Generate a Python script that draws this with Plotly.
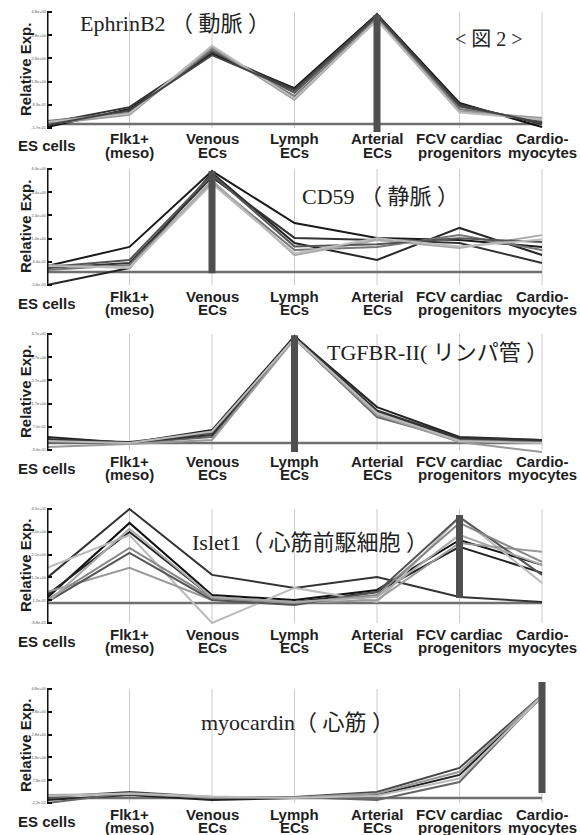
import plotly.graph_objects as go

W, H = 580, 835

# ---------------- data ----------------
categories = ["ES cells", "Flk1+ (meso)", "Venous ECs", "Lymph ECs",
              "Arterial ECs", "FCV cardiac progenitors", "Cardio-myocytes"]
cat_line1 = ["ES cells", "Flk1+", "Venous", "Lymph", "Arterial", "FCV cardiac", "Cardio-"]
cat_line2 = ["", "(meso)", "ECs", "ECs", "ECs", "progenitors", "myocytes"]

titles = ["EphrinB2 （ 動脈 ）", "CD59 （ 静脈 ）", "TGFBR-II( リンパ管 ）",
          "Islet1（ 心筋前駆細胞 ）", "myocardin（ 心筋 ）"]
figure_label = "< 図 2 >"
y_title = "Relative Exp."

# y tick values per panel (relative expression units)
ticks_p1 = [-0.17, 0.83, 1.83, 2.83, 3.83, 4.83]
ticks_p2 = [-0.56, 0.44, 1.44, 2.44, 3.44, 4.44]
ticks_p3 = [-0.30, 0.70, 1.70, 2.70, 3.70, 4.70]
ticks_p4 = [-0.88, 0.12, 1.12, 2.12, 3.12, 4.12]
ticks_p5 = [-0.22, 0.78, 1.78, 2.78, 3.78, 4.78]

# EphrinB2 (arterial)
ephrinb2 = [
    [-0.13, 0.65, 3.02, 1.55, 4.74, 0.91, -0.13],
    [0.04, 0.73, 3.10, 1.50, 4.66, 0.85, 0.00],
    [0.09, 0.56, 3.15, 1.35, 4.60, 0.75, 0.09],
    [0.13, 0.48, 3.25, 1.20, 4.55, 0.65, 0.17],
    [0.00, 0.40, 3.32, 1.05, 4.50, 0.55, 0.26],
    [0.09, 0.45, 3.38, 1.10, 4.48, 0.50, 0.20],
    [-0.04, 0.60, 2.97, 1.45, 4.70, 0.80, 0.05],
]
# CD59 (venous)
cd59 = [
    [0.26, 1.08, 4.35, 2.11, 1.47, 1.38, 1.08],
    [-0.56, 0.17, 4.27, 1.25, 0.52, 1.90, 0.73],
    [0.17, 0.39, 4.09, 1.47, 1.38, 1.25, 0.39],
    [0.09, 0.30, 3.88, 0.95, 1.08, 1.59, 0.95],
    [0.30, 0.17, 3.95, 0.73, 1.38, 1.03, 1.59],
    [0.22, 0.52, 4.20, 1.10, 1.20, 1.45, 1.29],
    [0.26, 0.20, 3.80, 0.80, 1.45, 1.10, 1.40],
]
# TGFBR-II (lymphatic)
tgfbr2 = [
    [0.26, 0.00, 0.56, 4.60, 1.55, 0.26, 0.13],
    [0.13, 0.04, 0.43, 4.55, 1.34, 0.17, 0.09],
    [0.00, 0.00, 0.26, 4.50, 1.12, 0.13, 0.04],
    [-0.17, -0.04, 0.13, 4.48, 1.20, 0.04, -0.39],
    [0.17, 0.02, 0.35, 4.62, 1.40, 0.22, 0.13],
    [0.09, 0.00, 0.50, 4.52, 1.30, 0.09, 0.00],
]
# Islet1 (cardiac progenitors)
islet1 = [
    [1.10, 4.12, 1.23, 0.66, 1.14, 0.26, 0.04],
    [0.22, 3.51, 0.35, 0.13, 0.57, 2.76, 1.67],
    [0.35, 3.11, 0.26, 0.04, 0.48, 2.46, 1.32],
    [1.54, 2.98, -0.88, 0.66, 0.04, 3.77, 0.88],
    [0.48, 1.54, 0.13, 0.00, 0.13, 2.63, 2.24],
    [0.04, 2.19, 0.13, -0.09, 0.48, 3.77, 1.23],
    [0.13, 2.41, 0.22, 0.00, 0.35, 3.51, 1.80],
    [0.00, 3.25, 0.26, 0.04, 0.26, 2.98, 1.67],
]
# myocardin (cardiomyocytes)
myocardin = [
    [0.04, 0.26, 0.04, 0.04, 0.26, 1.32, 4.52],
    [-0.09, 0.13, -0.09, 0.00, 0.13, 1.01, 4.43],
    [-0.22, 0.22, 0.00, 0.04, -0.09, 0.70, 4.48],
    [0.13, 0.18, 0.02, 0.02, 0.20, 1.15, 4.50],
    [0.09, 0.20, 0.06, 0.00, 0.10, 0.85, 4.46],
]

# highlighted (selected) category and its bar extent per panel
highlight_cat = ["Arterial ECs", "Venous ECs", "Lymph ECs",
                 "FCV cardiac progenitors", "Cardio-myocytes"]
highlight_low = [-0.34, -0.05, -0.39, 0.22, 0.22]
highlight_high = [4.70, 4.35, 4.65, 3.86, 5.09]

# ---------------- style / layout ----------------
panels = [
    dict(series=ephrinb2, ticks=ticks_p1, top=12, bot=128,
         colors=["#111111", "#333333", "#555555", "#777777", "#999999", "#bbbbbb", "#444444"],
         title_xy=(78, 24)),
    dict(series=cd59, ticks=ticks_p2, top=169, bot=285,
         colors=["#1a1a1a", "#262626", "#333333", "#777777", "#aaaaaa", "#555555", "#bbbbbb"],
         title_xy=(300, 196)),
    dict(series=tgfbr2, ticks=ticks_p3, top=334, bot=450,
         colors=["#222222", "#444444", "#666666", "#999999", "#333333", "#bbbbbb"],
         title_xy=(325, 352)),
    dict(series=islet1, ticks=ticks_p4, top=509, bot=623,
         colors=["#333333", "#111111", "#222222", "#bbbbbb", "#999999", "#555555", "#888888", "#aaaaaa"],
         title_xy=(190, 542)),
    dict(series=myocardin, ticks=ticks_p5, top=689, bot=803,
         colors=["#444444", "#222222", "#666666", "#999999", "#bbbbbb"],
         title_xy=(199, 722)),
]

X0_PX = 47.0
CAT_PX = 82.5
X_RANGE = [0, 6.08]
PAD = 0.5

fig = go.Figure()
layout = dict(width=W, height=H, margin=dict(l=0, r=0, t=0, b=0),
              paper_bgcolor="white", plot_bgcolor="white", showlegend=False)
shapes = []
annotations = []

def py(px):
    return 1 - px / H

for i, p in enumerate(panels):
    n = i + 1
    xa = "x" if n == 1 else f"x{n}"
    ya = "y" if n == 1 else f"y{n}"
    ticks = p["ticks"]
    spu = (p["bot"] - p["top"]) / (ticks[-1] - ticks[0])
    dom_top = p["top"] - PAD * spu
    dom_bot = p["bot"] + PAD * spu
    x_dom = [X0_PX / W, (X0_PX + X_RANGE[1] * CAT_PX) / W]

    layout["xaxis" if n == 1 else f"xaxis{n}"] = dict(
        domain=x_dom, range=X_RANGE, anchor=ya, type="category",
        categoryorder="array", categoryarray=categories,
        showgrid=False, zeroline=False, showline=False,
        showticklabels=False, ticks="")
    layout["yaxis" if n == 1 else f"yaxis{n}"] = dict(
        domain=[py(dom_bot), py(dom_top)],
        range=[ticks[0] - PAD, ticks[-1] + PAD], anchor=xa,
        tickvals=ticks, ticktext=[f"{v:.1e}" for v in ticks],
        tickfont=dict(size=4, color="#555555", family="Liberation Sans"),
        ticks="inside", ticklen=5, tickwidth=2, tickcolor="#111111",
        showgrid=False, zeroline=False, showline=False)

    # vertical grid lines at each category
    for c in categories[1:]:
        shapes.append(dict(type="line", xref=xa, yref=ya, x0=c, x1=c,
                           y0=ticks[0], y1=ticks[-1],
                           line=dict(color="#cccccc", width=1), layer="below"))
    # baseline at zero
    shapes.append(dict(type="line", xref=xa, yref=ya,
                       x0=categories[0], x1=categories[-1], y0=0, y1=0,
                       line=dict(color="#707070", width=2.5), layer="below"))
    # y axis line from first to last tick
    shapes.append(dict(type="line", xref=xa, yref=ya,
                       x0=categories[0], x1=categories[0],
                       y0=ticks[0], y1=ticks[-1],
                       line=dict(color="#111111", width=3), layer="above"))

    for s, col in zip(p["series"], p["colors"]):
        fig.add_trace(go.Scatter(x=categories, y=s, mode="lines",
                                 line=dict(color=col, width=2),
                                 xaxis=xa, yaxis=ya, hoverinfo="skip"))
    fig.add_trace(go.Scatter(x=[highlight_cat[i], highlight_cat[i]],
                             y=[highlight_low[i], highlight_high[i]],
                             mode="lines", line=dict(color="#4f4f4f", width=7),
                             xaxis=xa, yaxis=ya, hoverinfo="skip"))

    # category labels
    for c, l1, l2 in zip(categories, cat_line1, cat_line2):
        lab_font = dict(family="Liberation Sans, Arial", size=15, color="#1e1e1e", weight="bold")
        if l2:
            annotations.append(dict(xref=xa, yref="paper", x=c, y=py(p["bot"] + 11),
                                    text=l1, showarrow=False, xanchor="center",
                                    yanchor="middle", font=lab_font))
            annotations.append(dict(xref=xa, yref="paper", x=c, y=py(p["bot"] + 24),
                                    text=l2, showarrow=False, xanchor="center",
                                    yanchor="middle", font=lab_font))
        else:
            annotations.append(dict(xref=xa, yref="paper", x=c, y=py(p["bot"] + 18),
                                    text=l1, showarrow=False, xanchor="center",
                                    yanchor="middle", font=lab_font))

    # y axis title
    annotations.append(dict(xref="paper", yref="paper", x=25 / W,
                            y=py((p["top"] + p["bot"]) / 2), text=y_title,
                            textangle=-90, showarrow=False, xanchor="center",
                            yanchor="middle",
                            font=dict(family="Liberation Sans, Arial", size=15,
                                      color="#1e1e1e", weight="bold")))
    # gene title
    tx, ty = p["title_xy"]
    annotations.append(dict(xref="paper", yref="paper", x=tx / W, y=py(ty),
                            text=titles[i], showarrow=False, xanchor="left",
                            yanchor="middle",
                            font=dict(family="Liberation Serif, Noto Sans CJK JP",
                                      size=22, color="#222222")))

annotations.append(dict(xref="paper", yref="paper", x=453 / W, y=py(39),
                        text=figure_label, showarrow=False, xanchor="left",
                        yanchor="middle",
                        font=dict(family="Liberation Serif, Noto Sans CJK JP",
                                  size=20, color="#222222")))

layout["shapes"] = shapes
layout["annotations"] = annotations
fig.update_layout(**layout)
fig.write_html("out.html", config={"displayModeBar": False},
               post_script="document.body.style.margin='0';document.body.style.overflow='hidden';")
